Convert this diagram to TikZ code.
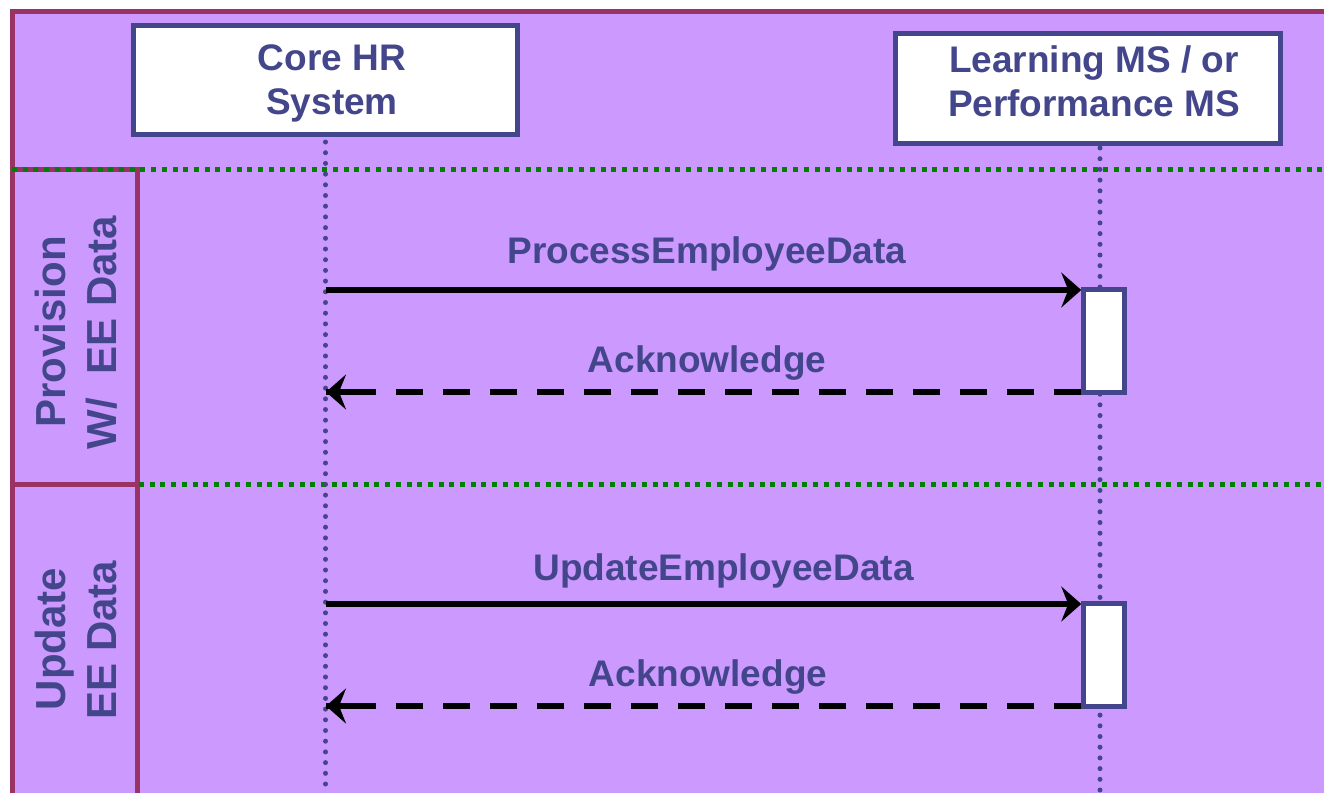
\documentclass[tikz,border=0pt]{standalone}
\usepackage{fontspec}
\setmainfont{Liberation Sans}
\usetikzlibrary{arrows.meta}
\definecolor{lilac}{RGB}{204,153,255}
\definecolor{maroonc}{RGB}{153,51,102}
\definecolor{navyc}{RGB}{68,70,140}
\definecolor{greenc}{RGB}{0,128,0}
\tikzset{
 frameline/.style={draw=maroonc,line width=5pt},
 sepline/.style={draw=greenc,line width=5pt,dash pattern=on 5pt off 5.7pt},
 lifeline/.style={draw=navyc,line width=5pt,line cap=round,dash pattern=on 0pt off 10.7pt},
 actor/.style={draw=navyc,fill=white,line width=5pt,inner sep=0pt},
 actbox/.style={draw=navyc,fill=white,line width=4.5pt,minimum width=41pt,minimum height=103pt,inner sep=0pt},
 txt/.style={text=navyc,font=\fontsize{37}{44}\selectfont\bfseries,inner sep=0pt,anchor=base},
 lanetxt/.style={text=navyc,font=\fontsize{42}{50}\selectfont\bfseries,inner sep=0pt,anchor=base,rotate=90},
 msg/.style={draw=black,line width=6pt,-{Stealth[length=20pt 0 0,width=35pt 0,inset=7pt 0]}},
 replyline/.style={draw=black,line width=6pt,dash pattern=on 27pt off 20pt},
}
\begin{document}
\begin{tikzpicture}[x=1pt,y=-1pt]
\useasboundingbox (0,0) rectangle (1324,793);
\fill[white] (0,0) rectangle (1324,793);
\fill[lilac] (12,11) rectangle (1324,793);
% frame and lane column
\draw[frameline] (1324,11.5) -- (12.5,11.5) -- (12.5,793);
\draw[frameline] (12.5,169) -- (137,169) -- (137,793);
\draw[frameline] (12.5,484) -- (137,484);
\draw[sepline] (12,169) -- (1324,169);
\draw[sepline] (139,484) -- (1324,484);
% actors
\node[actor,minimum width=384pt,minimum height=109pt] (core) at (325.5,80) {};
\node[actor,minimum width=385pt,minimum height=110pt] (lms) at (1088,88.5) {};
% lifelines
\coordinate (corebot) at (326,793);
\coordinate (lmstop) at (1100,148);
\coordinate (lmsbot) at (1100,793);
\draw[lifeline] (core.south) ++(0,5) -- (core.south |- corebot);
\draw[lifeline] (lmstop) -- (lmsbot);
% activation boxes
\node[actbox] (act1) at (1104,341) {};
\node[actbox] (act2) at (1104,655) {};
% messages
\coordinate (c1) at (326,290);
\coordinate (r1) at (326,392);
\coordinate (c2) at (326,604);
\coordinate (r2) at (326,706);
\draw[msg] (c1) -- (c1 -| act1.west);
\draw[replyline] (r1 -| act1.west) -- (r1);
\draw[msg] ([xshift=30pt]r1) -- (r1);
\draw[msg] (c2) -- (c2 -| act2.west);
\draw[replyline] (r2 -| act2.west) -- (r2);
\draw[msg] ([xshift=30pt]r2) -- (r2);
% texts
\node[txt] (t1a) at (332,70) {Core HR};
\node[txt] (t1b) at (332,114) {System};
\node[txt] (t2a) at (1094,72) {Learning MS / or};
\node[txt] (t2b) at (1094,116) {Performance MS};
\node[txt] (m1) at (707,263) {ProcessEmployeeData};
\node[txt] (m2) at (707,372) {Acknowledge};
\node[txt] (m3) at (723.5,580) {UpdateEmployeeData};
\node[txt] (m4) at (708,686) {Acknowledge};
\node[lanetxt] (l1a) at (65,332) {Provision};
\node[lanetxt] (l1b) at (116,332.5) {W/\ \ EE Data};
\node[lanetxt] (l2a) at (65,639) {Update};
\node[lanetxt] (l2b) at (116,640) {EE Data};
\end{tikzpicture}
\end{document}
